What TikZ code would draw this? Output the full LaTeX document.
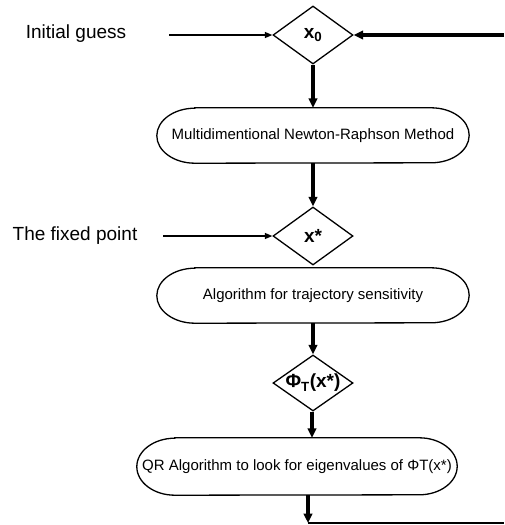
\documentclass[tikz,border=0pt]{standalone}
\usepackage{fontspec}
\setmainfont{Liberation Sans}
\usetikzlibrary{shapes.geometric,arrows.meta}
\tikzset{
  decision/.style={shape=diamond,draw,line width=1.3pt,inner sep=0pt,minimum width=80pt,minimum height=58pt},
  dlabel/.style={font=\bfseries\fontsize{19}{21}\selectfont},
  termbox/.style={shape=rectangle,inner sep=0pt,font=\fontsize{15}{17}\selectfont},
  sidelabel/.style={font=\fontsize{19}{21}\selectfont,inner sep=0pt},
  thinarrow/.style={line width=1.4pt,-{Triangle[width=6pt,length=7.5pt]}},
  thickarrow/.style={line width=3.3pt,-{Triangle[width=8.5pt,length=9.5pt]}},
  boxline/.style={line width=1.3pt},
}
\newcommand\termoutline[2]{% node name, half height
  \draw[boxline] ([xshift=38pt]#1.north west) -- ([xshift=-38pt]#1.north east)
    arc[start angle=90,end angle=-90,x radius=38pt,y radius=#2]
    -- ([xshift=38pt]#1.south west)
    arc[start angle=270,end angle=90,x radius=38pt,y radius=#2] -- cycle;}
\begin{document}
\begin{tikzpicture}[x=1pt,y=-1pt]
\useasboundingbox (0,0) rectangle (504,525);
% diamonds
\node[decision,label={[dlabel]center:x\textsubscript{0}}] (x0) at (313,35) {};
\node[decision,label={[dlabel]center:x*}] (xs) at (313,236) {};
\node[decision,minimum height=56pt,label={[dlabel]center:Φ\textsubscript{T}(x*)}] (phi) at (313,383) {};
% boxes
\node[termbox,minimum width=312pt,minimum height=55pt] (nr) at (313,135.5) {Multidimentional Newton-Raphson Method};
\node[termbox,minimum width=312pt,minimum height=55pt] (ts) at (313,295.5) {Algorithm for trajectory sensitivity};
\node[termbox,minimum width=320pt,minimum height=57pt] (qr) at (297,466.5) {QR Algorithm to look for eigenvalues of ΦT(x*)};
\termoutline{nr}{27.5pt}
\termoutline{ts}{27.5pt}
\termoutline{qr}{28.5pt}
% side labels
\node[sidelabel] (ig) at (76,34) {Initial guess};
\node[sidelabel] (fp) at (75,236) {The fixed point};
\coordinate (igs) at (169,35);
\coordinate (fps) at (163,236);
\coordinate (fb) at (504,35);
\coordinate (bot) at (308,523);
\coordinate (botr) at (504,523);
% connectors
\draw[thinarrow] (igs) -- (x0.west);
\draw[thinarrow] (fps) -- (xs.west);
\draw[thickarrow] (fb) -- (x0.east);
\draw[thickarrow] (x0.south) -- (x0.south |- nr.north);
\draw[thickarrow] (nr.south -| xs) -- (xs.north);
\draw[thickarrow] (ts.south -| phi) -- (phi.north);
\draw[thickarrow] ([xshift=-1pt]phi.south) -- ([xshift=-1pt]phi.south |- qr.north);
\draw[thickarrow] (bot |- qr.south) -- (bot);
\draw[line width=1.4pt] (bot) -- (botr);
\end{tikzpicture}
\end{document}
